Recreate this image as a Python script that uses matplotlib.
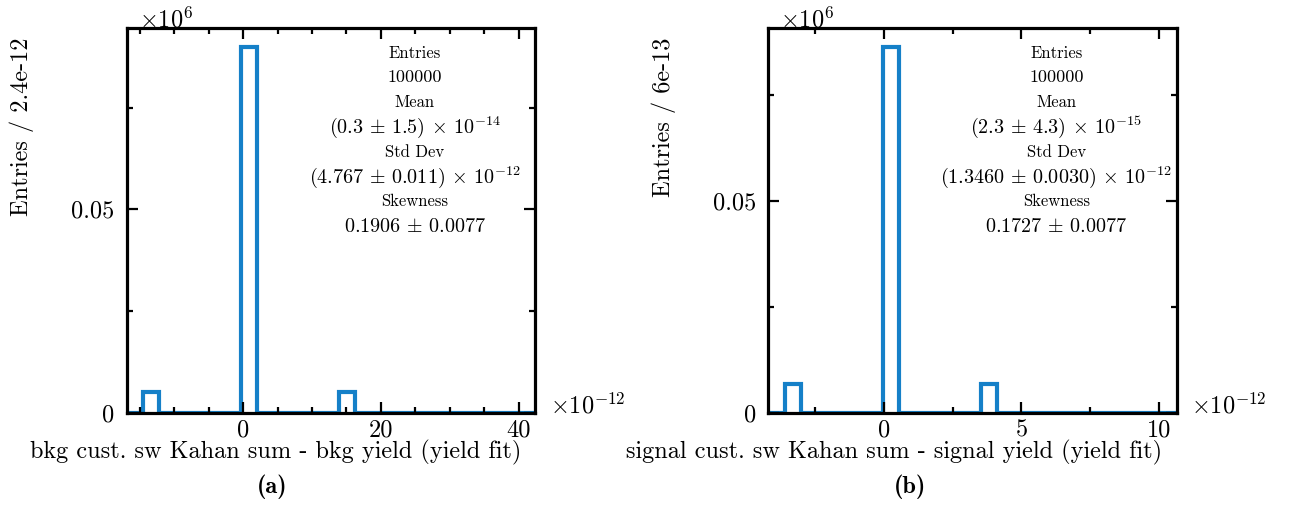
import numpy as np
import matplotlib
matplotlib.use("Agg")
import matplotlib.pyplot as plt
from matplotlib.ticker import MultipleLocator

plt.rcParams['font.family'] = 'serif'
plt.rcParams['font.serif'] = ['cmr10']
plt.rcParams['mathtext.fontset'] = 'cm'
plt.rcParams['axes.unicode_minus'] = False

# binned residuals (x in units of 1e-12, 25 bins over the data range)
bkg_range = (-16.9, 42.4)
bkg_counts = [0, 5000, 0, 0, 0, 0, 0, 90000, 0, 0, 0, 0, 0,
              5000, 0, 0, 0, 0, 0, 0, 0, 0, 0, 0, 0]
sig_range = (-4.2, 10.65)
sig_counts = [0, 6850, 0, 0, 0, 0, 0, 86300, 0, 0, 0, 0, 0,
              6850, 0, 0, 0, 0, 0, 0, 0, 0, 0, 0, 0]

bkg_xticks = [0, 20, 40]
sig_xticks = [0, 5, 10]
yticks = [0, 0.05]
ytick_labels = ['0', '0.05']

bkg_stats = ['Entries', '100000', 'Mean', r'$(0.3 \,\pm\, 1.5) \,\times\, 10^{-14}$',
             'Std Dev', r'$(4.767 \,\pm\, 0.011) \,\times\, 10^{-12}$',
             'Skewness', r'$0.1906 \,\pm\, 0.0077$']
sig_stats = ['Entries', '100000', 'Mean', r'$(2.3 \,\pm\, 4.3) \,\times\, 10^{-15}$',
             'Std Dev', r'$(1.3460 \,\pm\, 0.0030) \,\times\, 10^{-12}$',
             'Skewness', r'$0.1727 \,\pm\, 0.0077$']

line_color = '#1580c8'
W, H = 1294, 505
FS = 17.5

fig = plt.figure(figsize=(W / 100, H / 100), dpi=100)


def px(x, y):
    # figure pixel coords (origin top-left) -> figure fraction
    return x / W, 1 - y / H


def draw_panel(left, rng, counts, xticks, xminor, ylab, xlab, xlab_x, sub, sub_x, stats):
    x0, y0 = px(left, 412.7)
    x1, y1 = px(left + 408.5, 28.3)
    ax = fig.add_axes([x0, y0, x1 - x0, y1 - y0])
    edges = np.linspace(rng[0], rng[1], len(counts) + 1)
    vals = np.array(counts) / 1e6
    ax.stairs(vals, edges, color=line_color, lw=3, zorder=1)
    ax.set_xlim(rng)
    ax.set_ylim(0, vals.max() * 1.05)

    ax.set_xticks(xticks, labels=[str(t) for t in xticks])
    ax.xaxis.set_minor_locator(MultipleLocator(xminor))
    ax.set_yticks(yticks, labels=ytick_labels)
    ax.yaxis.set_minor_locator(MultipleLocator(0.025))
    ax.tick_params(which='both', direction='in', top=True, right=True, width=1.6)
    ax.tick_params(which='major', length=8, labelsize=FS)
    ax.tick_params(which='minor', length=4)
    ax.tick_params(axis='x', pad=5)
    ax.tick_params(axis='y', pad=9)
    for s in ax.spines.values():
        s.set_linewidth(2.3)
        s.set_zorder(3)

    # exponent markers
    fig.text(*px(left + 12, 27), r'$\times10^{6}$', fontsize=FS, ha='left', va='baseline')
    fig.text(*px(left + 423, 413), r'$\times10^{-12}$', fontsize=FS, ha='left', va='baseline')

    # axis titles
    fig.text(*px(left - 105, 38), ylab, rotation=90, fontsize=FS, ha='center', va='top')
    fig.text(*px(xlab_x, 452), xlab, fontsize=FS, ha='center', va='center')
    fig.text(*px(sub_x, 487), sub, fontsize=FS, ha='center', va='center', family='cmb10')

    # statistics block
    for i, line in enumerate(stats):
        if line.startswith('$'):
            size = 14.5
        elif line.isdigit():
            size = 13
        else:
            size = 12
        ax.text(0.705, 1 - (53 - 28.3 + i * 24.8) / 384.4, line, transform=ax.transAxes,
                fontsize=size, ha='center', va='center')
    return ax


draw_panel(126.7, bkg_range, bkg_counts, bkg_xticks, 5,
           'Entries / 2.4e-12', 'bkg cust. sw Kahan sum - bkg yield (yield fit)', 275.5,
           '(a)', 272, bkg_stats)
draw_panel(768.3, sig_range, sig_counts, sig_xticks, 2.5,
           'Entries / 6e-13', 'signal cust. sw Kahan sum - signal yield (yield fit)', 894,
           '(b)', 910, sig_stats)

fig.savefig('out.png', dpi=100)
